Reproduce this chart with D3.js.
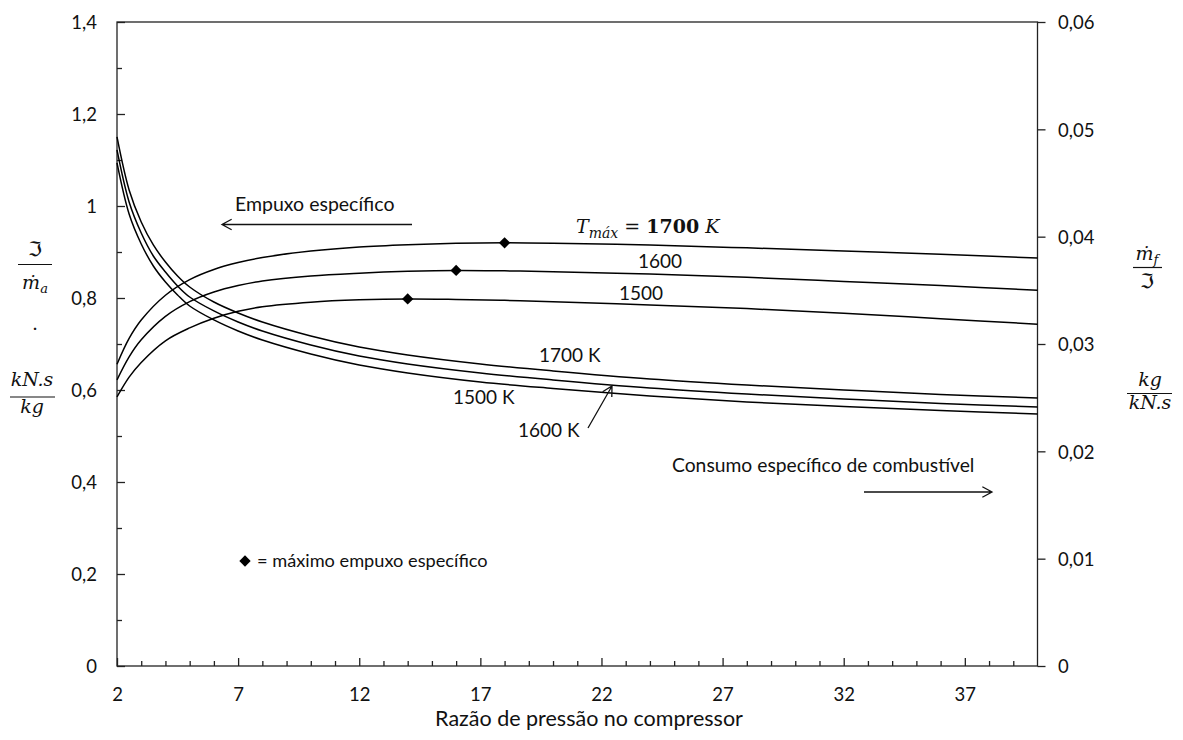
<!DOCTYPE html>
<html>
<head>
<meta charset="utf-8">
<script src="https://cdn.jsdelivr.net/npm/d3@7/dist/d3.min.js"></script>
<style>
  html, body { margin: 0; padding: 0; background: #fff; }
  svg { display: block; }
  .tick text { font-family: Lato, "Open Sans", sans-serif; font-size: 18.5px; fill: #111; }
  .lbl { font-family: Lato, "Open Sans", sans-serif; fill: #111; }
  .math { font-family: "DejaVu Serif", "Liberation Serif", serif; font-style: italic; fill: #111; }
  .frak { font-family: "DejaVu Sans", "DejaVu Serif", sans-serif; font-style: normal; }
</style>
</head>
<body>
<svg id="chart" width="1183" height="740"></svg>
<script>
// ---------------- data ----------------
const pressureRatio = [2, 2.5, 3, 4, 5, 6, 7, 8, 10, 12, 14, 16, 18, 20, 24, 28, 32, 36, 40];
const thrust1700 = [0.656, 0.712, 0.752, 0.806, 0.840, 0.862, 0.877, 0.888, 0.902, 0.911, 0.916, 0.919, 0.920, 0.919, 0.915, 0.909, 0.902, 0.895, 0.887];
const thrust1600 = [0.622, 0.672, 0.709, 0.760, 0.792, 0.813, 0.827, 0.837, 0.848, 0.854, 0.858, 0.860, 0.859, 0.857, 0.852, 0.845, 0.836, 0.827, 0.817];
const thrust1500 = [0.585, 0.628, 0.660, 0.707, 0.735, 0.756, 0.771, 0.781, 0.791, 0.796, 0.798, 0.797, 0.795, 0.792, 0.785, 0.777, 0.767, 0.755, 0.743];

const sfcRatio = [2, 2.5, 3, 3.5, 4, 4.5, 5, 6, 7, 8, 10, 12, 14, 17, 20, 24, 28, 32, 36, 40];
const sfc1700 = [0.04929, 0.04435, 0.04137, 0.03923, 0.03764, 0.03634, 0.03531, 0.03391, 0.03289, 0.03205, 0.03075, 0.02972, 0.02898, 0.02814, 0.02749, 0.02674, 0.02618, 0.02572, 0.02530, 0.02497];
const sfc1600 = [0.04808, 0.04323, 0.04034, 0.03820, 0.03671, 0.03541, 0.03438, 0.03308, 0.03205, 0.03121, 0.02991, 0.02888, 0.02814, 0.02730, 0.02665, 0.02590, 0.02534, 0.02488, 0.02446, 0.02413];
const sfc1500 = [0.04687, 0.04211, 0.03932, 0.03727, 0.03578, 0.03457, 0.03354, 0.03224, 0.03121, 0.03037, 0.02907, 0.02804, 0.02730, 0.02646, 0.02586, 0.02516, 0.02460, 0.02418, 0.02381, 0.02348];

const maxRatio = [18, 16, 14];
const maxThrust = [0.920, 0.860, 0.798];

const xMajorTicks = [2, 7, 12, 17, 22, 27, 32, 37];
const xMinorTicks = d3.range(3, 40).filter(v => !xMajorTicks.includes(v));
const leftMajorTicks = [0, 0.2, 0.4, 0.6, 0.8, 1.0, 1.2, 1.4];
const leftMinorTicks = [0.1, 0.3, 0.5, 0.7, 0.9, 1.1, 1.3];
const rightTicks = [0, 0.01, 0.02, 0.03, 0.04, 0.05, 0.06];

// ---------------- layout ----------------
const L = 117, R = 1037.5, T = 22, B = 666;
const svg = d3.select("#chart");
const x = d3.scaleLinear().domain([2, 40]).range([L, R]);
const yL = d3.scaleLinear().domain([0, 1.4]).range([B, T]);
const yR = d3.scaleLinear().domain([0, 0.06]).range([B, T]);
const loc = d3.formatLocale({decimal: ",", thousands: ".", grouping: [3], currency: ["", ""]});
const fmt = loc.format("~g");

// axes
const gLeftMinor = svg.append("g").attr("transform", `translate(${L},0)`)
  .call(d3.axisLeft(yL).tickValues(leftMinorTicks).tickSizeInner(-5).tickSizeOuter(0).tickFormat(""));
const gLeft = svg.append("g").attr("transform", `translate(${L},0)`)
  .call(d3.axisLeft(yL).tickValues(leftMajorTicks).tickSizeInner(-8).tickSizeOuter(0).tickPadding(20).tickFormat(fmt));
const gBotMinor = svg.append("g").attr("transform", `translate(0,${B})`)
  .call(d3.axisBottom(x).tickValues(xMinorTicks).tickSizeInner(-5).tickSizeOuter(0).tickFormat(""));
const gBot = svg.append("g").attr("transform", `translate(0,${B})`)
  .call(d3.axisBottom(x).tickValues(xMajorTicks).tickSizeInner(-8).tickSizeOuter(0).tickPadding(22).tickFormat(d3.format("d")));
const gRight = svg.append("g").attr("transform", `translate(${R},0)`)
  .call(d3.axisRight(yR).tickValues(rightTicks).tickSizeInner(8).tickSizeOuter(0).tickPadding(12.5).tickFormat(fmt));
[gLeftMinor, gLeft, gBotMinor, gBot, gRight].forEach(g => {
  g.select(".domain").remove();
  g.selectAll(".tick line").attr("stroke", "#222").attr("stroke-width", 1.3);
});
gLeft.selectAll(".tick text").attr("dy", "0.36em");
gRight.selectAll(".tick text").attr("dy", "0.36em");

// plot border
svg.append("rect").attr("x", L).attr("y", T).attr("width", R - L).attr("height", B - T)
  .attr("fill", "none").attr("stroke", "#222").attr("stroke-width", 1.3);

// curves
const lineL = d3.line().x(d => x(d[0])).y(d => yL(d[1])).curve(d3.curveCatmullRom.alpha(0.5));
const lineR = d3.line().x(d => x(d[0])).y(d => yR(d[1])).curve(d3.curveCatmullRom.alpha(0.5));
const curves = svg.append("g").attr("fill", "none").attr("stroke", "#000").attr("stroke-width", 1.5);
[thrust1700, thrust1600, thrust1500].forEach(s => {
  curves.append("path").attr("d", lineL(pressureRatio.map((p, i) => [p, s[i]])));
});
[sfc1700, sfc1600, sfc1500].forEach(s => {
  curves.append("path").attr("d", lineR(sfcRatio.map((p, i) => [p, s[i]])));
});

// diamond markers
const diamond = {
  draw(ctx, size) {
    const r = Math.sqrt(size / 2);
    ctx.moveTo(0, -r); ctx.lineTo(r, 0); ctx.lineTo(0, r); ctx.lineTo(-r, 0); ctx.closePath();
  }
};
const sym = d3.symbol().type(diamond).size(64);
svg.append("g").selectAll("path").data(maxRatio.map((p, i) => [p, maxThrust[i]])).join("path")
  .attr("transform", d => `translate(${x(d[0])},${yL(d[1])})`)
  .attr("d", sym).attr("fill", "#000");

// ---------------- annotations ----------------
const ann = svg.append("g");
function arrowHead(tx, ty, fx, fy) {
  const a = Math.atan2(ty - fy, tx - fx), len = 11, sp = 0.5;
  const p1 = [tx - len * Math.cos(a - sp), ty - len * Math.sin(a - sp)];
  const p2 = [tx - len * Math.cos(a + sp), ty - len * Math.sin(a + sp)];
  return `M${p1[0]},${p1[1]}L${tx},${ty}L${p2[0]},${p2[1]}`;
}
function arrow(fx, fy, tx, ty) {
  ann.append("path").attr("d", `M${fx},${fy}L${tx},${ty}` + arrowHead(tx, ty, fx, fy))
    .attr("fill", "none").attr("stroke", "#111").attr("stroke-width", 1.3);
}
function label(tx, ty, txt, size, anchor) {
  return ann.append("text").attr("class", "lbl").attr("x", tx).attr("y", ty)
    .attr("text-anchor", anchor || "start").style("font-size", size + "px").text(txt);
}

label(235, 211, "Empuxo específico", 19.5);
arrow(412, 224.5, 222, 224.5);

label(672, 472, "Consumo específico de combustível", 19.3);
arrow(864, 492, 992, 492);

ann.append("path").attr("transform", "translate(245,561)").attr("d", sym).attr("fill", "#000");
label(257, 567, "= máximo empuxo específico", 18.2);

label(539, 362, "1700 K", 19);
label(453, 404, "1500 K", 19);
label(518, 437, "1600 K", 19);
arrow(588, 428, 612, 386);

label(660, 268, "1600", 19, "middle");
label(641, 300, "1500", 19, "middle");

// T_max label
const tm = ann.append("text").attr("class", "math").attr("x", 576).attr("y", 233).style("font-size", "19px");
tm.append("tspan").text("T");
tm.append("tspan").attr("dy", 5).style("font-size", "14px").text("máx");
tm.append("tspan").attr("dy", -5).style("font-style", "normal").text(" = ");
tm.append("tspan").style("font-style", "normal").style("font-weight", "bold").text("1700");
tm.append("tspan").text(" K");

// axis unit labels (fractions)
function frac(cx, numY, lineY, denY, x1, x2, num, den) {
  const n = ann.append("text").attr("class", "math").attr("x", cx).attr("y", numY)
    .attr("text-anchor", "middle").style("font-size", "19px");
  num(n);
  ann.append("line").attr("x1", x1).attr("x2", x2).attr("y1", lineY).attr("y2", lineY)
    .attr("stroke", "#111").attr("stroke-width", 1.2);
  const d = ann.append("text").attr("class", "math").attr("x", cx).attr("y", denY)
    .attr("text-anchor", "middle").style("font-size", "19px");
  den(d);
}
const frak = t => t.append("tspan").attr("class", "frak").style("font-size", "20px").text("ℑ");
frac(35, 256, 264.5, 289, 18, 52,
  frak,
  t => { t.append("tspan").text("ṁ"); t.append("tspan").attr("dy", 4).style("font-size", "13px").text("a"); });
ann.append("text").attr("class", "math").attr("x", 35).attr("y", 330).attr("text-anchor", "middle")
  .style("font-size", "19px").style("font-style", "normal").text(".");
frac(32, 386, 397, 413, 10, 55,
  t => t.text("kN.s"),
  t => t.text("kg"));

frac(1147, 260, 267.5, 288, 1133, 1162,
  t => { t.append("tspan").text("ṁ"); t.append("tspan").attr("dy", 4).style("font-size", "13px").text("f"); },
  frak);
frac(1150, 386, 393.5, 409, 1127, 1172,
  t => t.text("kg"),
  t => t.text("kN.s"));

// x axis title
label(589, 726, "Razão de pressão no compressor", 21.5, "middle");
</script>
</body>
</html>
